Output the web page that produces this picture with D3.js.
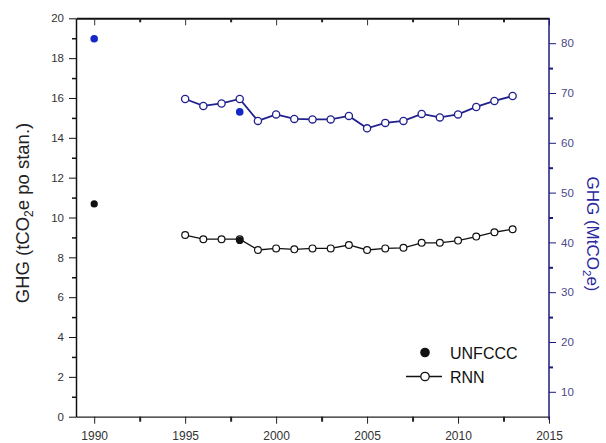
<!DOCTYPE html>
<html><head><meta charset="utf-8">
<script src="https://cdn.jsdelivr.net/npm/d3@7"></script>
<style>
body{margin:0;background:#fff}
text{font-family:"Liberation Sans",Arial,sans-serif}
</style>
</head><body>
<svg id="c" width="606" height="443"></svg>
<script>
// ---- data ----
const rnnYears = [1995,1996,1997,1998,1999,2000,2001,2002,2003,2004,2005,2006,2007,2008,2009,2010,2011,2012,2013];
const rnnPerCapita = [9.12,8.91,8.91,8.91,8.37,8.45,8.40,8.45,8.45,8.62,8.37,8.45,8.48,8.73,8.73,8.84,9.04,9.26,9.41];
const rnnTotal = [68.8,67.4,67.9,68.8,64.4,65.7,64.8,64.7,64.7,65.4,62.9,64.0,64.4,65.8,65.1,65.7,67.2,68.4,69.4];
const unfcccYears = [1990,1998];
const unfcccPerCapita = [10.68,8.85];
const unfcccTotal = [80.9,66.2];
const xTicks = [1990,1995,2000,2005,2010,2015];
const xMinor = [1992.5,1997.5,2002.5,2007.5,2012.5];
const leftTicks = [0,2,4,6,8,10,12,14,16,18,20];
const leftMinor = [1,3,5,7,9,11,13,15,17,19];
const rightTicks = [10,20,30,40,50,60,70,80];
const rightMinor = [15,25,35,45,55,65,75];
const legendLabels = ["UNFCCC","RNN"];

// ---- layout ----
const L = 76, R = 549, T = 18.3, B = 416.7;
const navy = "#1c1c7e", blue = "#1428c8";
const svg = d3.select("#c");

const x = d3.scaleLinear().domain([1989,2015]).range([L,R]);
const yL = d3.scaleLinear().domain([0,20]).range([B,T]);
const yR = d3.scaleLinear().domain([5,85]).range([B,T]);

function style(g, color, fs){
  g.selectAll("path").attr("stroke", color);
  g.selectAll("line").attr("stroke", color);
  g.selectAll("text").attr("fill", color).attr("font-size", fs)
    .attr("font-family","Liberation Sans, Arial, sans-serif");
}

// bottom axis
const gb = svg.append("g").attr("transform",`translate(0,${B})`)
  .call(d3.axisBottom(x).tickValues(xTicks).tickFormat(d3.format("d")).tickSize(7).tickSizeOuter(0).tickPadding(8));
style(gb,"#222",12);
gb.select("path").attr("stroke-width",1.2);
gb.selectAll("text").attr("fill","#333");
const gbm = svg.append("g").attr("transform",`translate(0,${B})`)
  .call(d3.axisBottom(x).tickValues(xMinor).tickFormat("").tickSize(5).tickSizeOuter(0));
gbm.select("path").remove();
gbm.selectAll("line").attr("stroke","#222").attr("stroke-width",2);

// top axis (inward ticks)
const gt = svg.append("g").attr("transform",`translate(0,${T})`)
  .call(d3.axisTop(x).tickValues(xTicks).tickFormat("").tickSize(-7).tickSizeOuter(0));
gt.select("path").attr("stroke","#111").attr("stroke-width",2);
gt.selectAll("line").attr("stroke","#333");
const gtm = svg.append("g").attr("transform",`translate(0,${T})`)
  .call(d3.axisTop(x).tickValues(xMinor).tickFormat("").tickSize(-4).tickSizeOuter(0));
gtm.select("path").remove();
gtm.selectAll("line").attr("stroke","#222").attr("stroke-width",2);

// left axis
const gl = svg.append("g").attr("transform",`translate(${L},0)`)
  .call(d3.axisLeft(yL).tickValues(leftTicks).tickSize(7).tickSizeOuter(0).tickPadding(5));
style(gl,"#111",11.5);
gl.select("path").attr("stroke-width",1.5);
gl.selectAll("text").attr("fill","#333");
const glm = svg.append("g").attr("transform",`translate(${L},0)`)
  .call(d3.axisLeft(yL).tickValues(leftMinor).tickFormat("").tickSize(4).tickSizeOuter(0));
glm.select("path").remove();
glm.selectAll("line").attr("stroke","#111").attr("stroke-width",1.5);

// right axis
const gr = svg.append("g").attr("transform",`translate(${R},0)`)
  .call(d3.axisRight(yR).tickValues(rightTicks).tickSize(7).tickSizeOuter(0).tickPadding(5));
style(gr,navy,11.5);
gr.select("path").attr("stroke-width",1.5).attr("d",`M0,${T}V${B+3}`);
gr.selectAll("text").attr("fill","#4a4a8a");
const grm = svg.append("g").attr("transform",`translate(${R},0)`)
  .call(d3.axisRight(yR).tickValues(rightMinor).tickFormat("").tickSize(4).tickSizeOuter(0));
grm.select("path").remove();
grm.selectAll("line").attr("stroke",navy).attr("stroke-width",2);

// axis titles
const lt = svg.append("text").attr("transform",`translate(29,213) rotate(-90)`)
  .attr("text-anchor","middle").attr("font-size",18.5).attr("fill","#222");
lt.append("tspan").text("GHG (tCO");
lt.append("tspan").attr("font-size",12).attr("dy",4).text("2");
lt.append("tspan").attr("dy",-4).text("e po stan.)");

const rt = svg.append("text").attr("transform",`translate(587,234) rotate(90)`)
  .attr("text-anchor","middle").attr("font-size",17).attr("fill","#2828a0");
rt.append("tspan").text("GHG (MtCO");
rt.append("tspan").attr("font-size",11.5).attr("dy",4).text("2");
rt.append("tspan").attr("dy",-4).text("e)");

// RNN series
const lineL = d3.line().x((d,i)=>x(rnnYears[i])).y(d=>yL(d));
const lineR = d3.line().x((d,i)=>x(rnnYears[i])).y(d=>yR(d));
svg.append("path").attr("d",lineL(rnnPerCapita)).attr("fill","none").attr("stroke","#111").attr("stroke-width",1.3);
svg.append("path").attr("d",lineR(rnnTotal)).attr("fill","none").attr("stroke","#20208e").attr("stroke-width",1.8);

svg.append("g").selectAll("circle").data(rnnPerCapita).join("circle")
  .attr("cx",(d,i)=>x(rnnYears[i])).attr("cy",d=>yL(d)).attr("r",3.4)
  .attr("fill","#fff").attr("stroke","#111").attr("stroke-width",1.2);
svg.append("g").selectAll("circle").data(rnnTotal).join("circle")
  .attr("cx",(d,i)=>x(rnnYears[i])).attr("cy",d=>yR(d)).attr("r",3.6)
  .attr("fill","#fff").attr("stroke","#20208e").attr("stroke-width",1.3);

// UNFCCC points
svg.append("g").selectAll("circle").data(unfcccPerCapita).join("circle")
  .attr("cx",(d,i)=>x(unfcccYears[i])).attr("cy",d=>yL(d)).attr("r",3.6).attr("fill","#111");
svg.append("g").selectAll("circle").data(unfcccTotal).join("circle")
  .attr("cx",(d,i)=>x(unfcccYears[i])).attr("cy",d=>yR(d)).attr("r",3.8).attr("fill",blue);

// legend
const lg = svg.append("g");
lg.append("circle").attr("cx",425).attr("cy",352.5).attr("r",4.8).attr("fill","#111");
lg.append("text").attr("x",450).attr("y",358.5).attr("font-size",16).attr("fill","#111").text(legendLabels[0]);
lg.append("line").attr("x1",406).attr("x2",442).attr("y1",376.5).attr("y2",376.5).attr("stroke","#111").attr("stroke-width",1.4);
lg.append("circle").attr("cx",425).attr("cy",376.5).attr("r",4.2).attr("fill","#fff").attr("stroke","#111").attr("stroke-width",1.3);
lg.append("text").attr("x",450).attr("y",382.5).attr("font-size",16).attr("fill","#111").text(legendLabels[1]);
</script>
</body></html>
